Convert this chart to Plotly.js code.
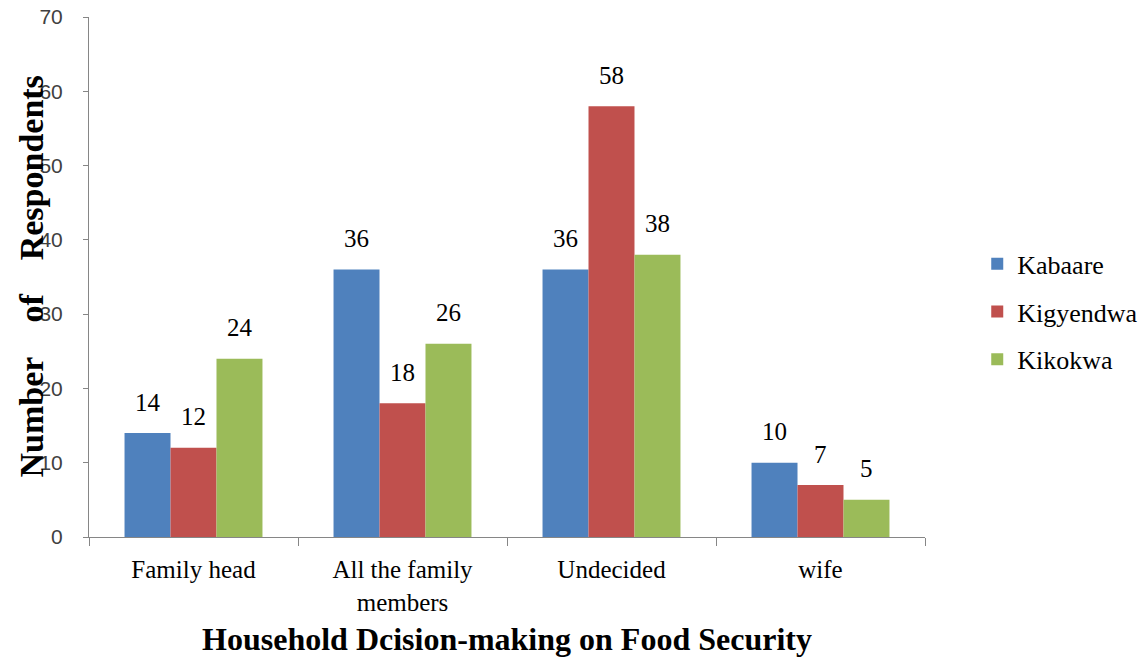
<!DOCTYPE html>
<html>
<head>
<meta charset="utf-8">
<script src="https://cdn.plot.ly/plotly-3.0.1.min.js"></script>
<style>
  html, body { margin: 0; padding: 0; background: #ffffff; }
  #chart { width: 1147px; height: 662px; }
</style>
</head>
<body>
<div id="chart"></div>
<script>
// Household decision-making categories (x axis)
const categories = ['Family head', 'All the family<br>members', 'Undecided', 'wife'];

// Respondent counts per sub-county
const kabaare   = [14, 36, 36, 10];
const kigyendwa = [12, 18, 58, 7];
const kikokwa   = [24, 26, 38, 5];

const seriesNames  = ['Kabaare', 'Kigyendwa', 'Kikokwa'];
const seriesValues = [kabaare, kigyendwa, kikokwa];
const seriesColors = ['#4F81BD', '#C0504D', '#9BBB59'];

const serif = '"Liberation Serif", "Times New Roman", serif';

const traces = seriesValues.map((vals, i) => ({
  type: 'bar',
  name: seriesNames[i],
  x: categories,
  y: vals,
  marker: { color: seriesColors[i], line: { width: 0 } },
  legendgroup: 'g' + i,
  hoverinfo: 'x+y+name'
}));

// Value labels above each bar, offset within the group
const barPx = 46;
const annotations = [];
seriesValues.forEach((vals, i) => {
  vals.forEach((v, j) => {
    annotations.push({
      x: categories[j], y: v, xref: 'x', yref: 'y',
      text: String(v), showarrow: false,
      xshift: (i - 1) * barPx, yshift: 31,
      font: { family: serif, size: 25, color: '#000000' }
    });
  });
});

// Y-axis title drawn over the tick labels
const sp = n => '&nbsp;'.repeat(n);
annotations.push({
  xref: 'paper', yref: 'paper', x: 0, y: 0.5,
  xshift: -79, yshift: 0,
  text: '<b>Number' + sp(4) + 'of' + sp(4) + 'Respondents</b>',
  textangle: -90, showarrow: false,
  font: { family: serif, size: 34, color: '#000000' }
});

const layout = {
  width: 1147, height: 662,
  margin: { l: 89, r: 222, t: 17, b: 125 },
  paper_bgcolor: '#ffffff', plot_bgcolor: '#ffffff',
  barmode: 'group', bargap: 0.34, bargroupgap: 0,
  showlegend: true,
  legend: {
    xref: 'container', yref: 'container',
    x: 0.852, y: 0.529, xanchor: 'left', yanchor: 'middle',
    font: { family: serif, size: 26, color: '#000000' },
    tracegroupgap: 11, itemwidth: 30
  },
  xaxis: {
    type: 'category',
    showline: true, linecolor: '#868686', linewidth: 1,
    ticks: 'outside', tickson: 'boundaries', ticklen: 8, tickcolor: '#868686',
    ticklabelstandoff: 10,
    tickfont: { family: serif, size: 25, color: '#000000' },
    showgrid: false, zeroline: false,
    title: { text: '<b>Household Dcision-making on Food Security</b>',
             font: { family: serif, size: 32, color: '#000000' }, standoff: 13 }
  },
  yaxis: {
    range: [0, 70], dtick: 10,
    showline: true, linecolor: '#868686', linewidth: 1,
    ticks: 'outside', ticklen: 5, tickcolor: '#868686', ticklabelstandoff: 16,
    tickfont: { family: '"Liberation Sans", Arial, sans-serif', size: 21, color: '#404040' },
    showgrid: false, zeroline: false
  },
  annotations: annotations
};

Plotly.newPlot('chart', traces, layout, { displayModeBar: false, staticPlot: true });
</script>
</body>
</html>
